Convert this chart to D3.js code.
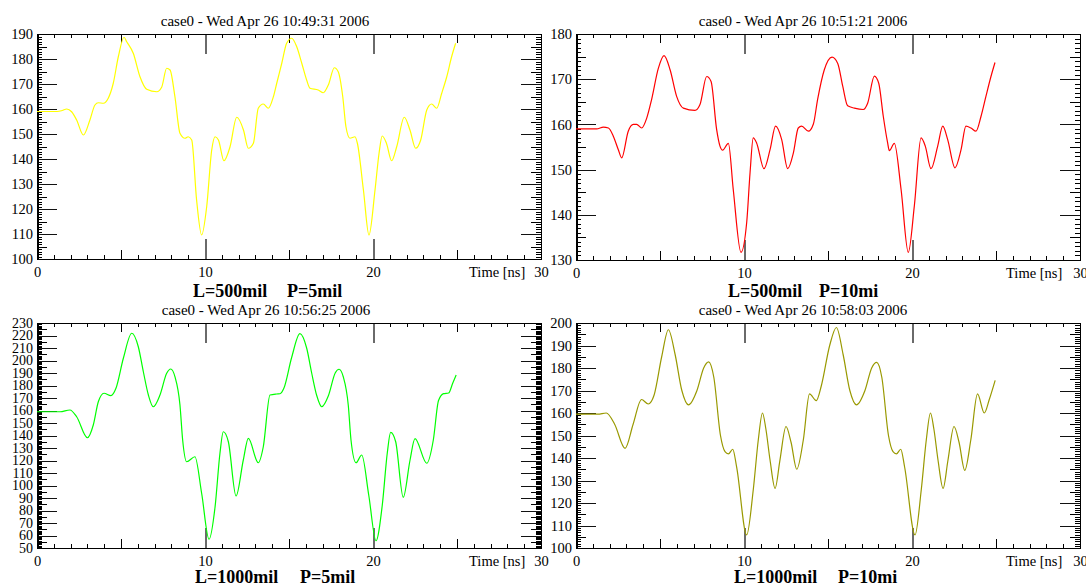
<!DOCTYPE html>
<html>
<head>
<meta charset="utf-8">
<script src="https://cdn.jsdelivr.net/npm/d3@7"></script>
<style>
  html, body { margin: 0; padding: 0; background: #fff; }
  svg { display: block; font-family: "Liberation Serif", "Times New Roman", serif; }
</style>
</head>
<body>
<svg id="chart" width="1086" height="585"></svg>
<script>
// ---- Waveform samples: [time (ns), voltage] ----
const seriesL500P5 = [
  [0,159],[1.2,159],[1.5,159.4],[1.77,160],[2.06,158.9],[2.36,155.6],[2.76,149.6],[3.15,155.6],[3.45,161.6],
  [3.65,162.5],[3.95,162.3],[4.24,164.3],[4.54,170.3],[4.84,180.9],[5.18,188.7],[5.34,186.9],[5.73,182.3],
  [6.13,172.9],[6.53,167.9],[7.13,166.9],[7.42,168.7],[7.72,176.3],[7.92,175.6],[8.21,164.9],[8.51,150.3],
  [8.81,148.3],[9.0,148.9],[9.21,147.6],[9.5,123.6],[9.8,109.6],[10.1,120.9],[10.4,143.6],[10.6,148.9],
  [10.8,147.6],[11.13,139.3],[11.49,144.9],[11.89,156.7],[12.29,151.6],[12.58,144.3],[12.88,146.3],
  [13.17,160.3],[13.47,162],[13.77,160.3],[14.07,164.9],[14.27,170.3],[14.57,178.3],[14.86,186.3],
  [15.16,188.3],[15.46,184.9],[15.76,178.3],[16.05,171.6],[16.25,168.3],[16.74,167.6],[17.04,166.5],
  [17.34,169.6],[17.7,176.5],[17.93,174.9],[18.2,164.9],[18.39,152.9],[18.63,148.3],[18.93,148.9],
  [19.07,146.3],[19.43,127.6],[19.76,109.6],[20.12,127.6],[20.36,142.3],[20.55,149.2],[20.8,146.3],
  [21.11,139.3],[21.41,144.9],[21.86,156.7],[22.2,151.6],[22.54,144.3],[22.84,147.6],[23.2,159.6],
  [23.49,162],[23.79,160.3],[24.09,166.3],[24.39,172.9],[24.68,180.9],[24.92,186.3]
];
const seriesL500P10 = [
  [0,159],[1.23,159],[1.63,159.4],[1.93,159.2],[2.22,157.4],[2.52,154.4],[2.72,152.6],[3.11,158.5],
  [3.41,160],[3.61,160],[3.91,159.2],[4.21,161.4],[4.5,165.5],[4.9,172.4],[5.24,175.2],[5.6,172.1],
  [5.99,166.2],[6.39,163.6],[7.08,163.1],[7.38,164.4],[7.78,170.6],[8.04,169.5],[8.37,158.9],[8.57,155.2],
  [8.73,154.3],[9.07,155.8],[9.36,145.6],[9.82,131.7],[10.16,138.3],[10.36,149.3],[10.55,157],[10.75,155.9],
  [11.19,150.2],[11.55,154.4],[11.88,159.6],[12.24,156.7],[12.6,150.2],[12.94,153.7],[13.23,159.2],
  [13.43,159.6],[13.83,158.5],[14.13,160.1],[14.38,165.5],[14.78,172.1],[15.24,174.9],[15.58,173.5],
  [15.88,168.4],[16.17,164.1],[16.57,163.6],[17.1,163.3],[17.36,164.7],[17.76,170.7],[18.02,169.1],
  [18.29,161.8],[18.55,155.9],[18.65,154.2],[18.95,155.8],[19.35,145.6],[19.78,131.7],[20.14,142],
  [20.54,157],[20.79,155.2],[21.13,150.2],[21.53,155.2],[21.83,159.6],[22.12,156.7],[22.56,150.4],
  [22.92,154.4],[23.21,159.6],[23.51,159.2],[23.81,158.5],[24.11,161.8],[24.4,166.2],[24.7,170.6],[24.94,173.7]
];
const seriesL1000P5 = [
  [0,159],[1.37,159],[1.96,160.4],[2.36,155],[3.0,138.2],[3.35,148.4],[3.65,167],[3.99,173.8],[4.4,171.9],
  [4.7,177.8],[5.14,201.8],[5.64,221.8],[6.03,211],[6.33,191],[6.63,172.4],[6.92,163],[7.32,172.4],
  [7.72,189.8],[7.96,193.2],[8.21,187.1],[8.51,164.4],[8.67,136.4],[8.91,119],[9.4,123],[9.8,93.8],
  [10.24,57],[10.6,83],[10.89,125.8],[11.09,143],[11.39,135],[11.85,91.6],[12.28,120.4],[12.58,137.7],
  [13.17,118.2],[13.47,131],[13.87,172.4],[14.27,173.2],[14.46,173.4],[14.7,178],[15.15,202],[15.65,221.5],
  [16.05,210],[16.35,190],[16.65,172],[16.95,163],[17.35,172],[17.75,190],[17.98,193],[18.23,187],
  [18.53,164],[18.69,136.4],[18.99,118.2],[19.33,124.4],[19.75,92],[20.18,55.8],[20.55,84],[20.85,126],
  [21.05,142.5],[21.35,135],[21.8,90.6],[22.2,120],[22.5,137.5],[23.2,117.8],[23.59,136.4],[23.9,168],
  [24.2,173.5],[24.5,174],[24.75,182],[24.95,188.4]
];
const seriesL1000P10 = [
  [0,159.5],[1.3,159.5],[1.8,160],[2.3,155],[2.92,144.3],[3.4,155],[3.9,166],[4.3,164],[4.65,168],
  [5.1,185],[5.5,197],[5.9,186],[6.3,170],[6.7,163.6],[7.2,170],[7.6,180],[7.9,182.7],[8.2,176],[8.6,150],
  [8.87,142.8],[9.07,141.8],[9.33,143.9],[9.56,136.1],[10.16,105.8],[10.55,125.8],[10.85,148],[11.1,160],
  [11.3,153],[11.55,139.1],[11.85,126.5],[12.14,139.1],[12.5,154],[12.8,147],[13.14,135],[13.53,148],
  [13.9,168.5],[14.3,165.5],[14.6,172],[15.1,190],[15.5,198],[15.9,186],[16.3,170],[16.7,163.6],[17.2,170],
  [17.6,180],[17.9,182.5],[18.2,176],[18.6,150],[18.87,142.8],[19.07,141.8],[19.33,143.9],[19.56,136],
  [20.18,105.8],[20.55,125.8],[20.85,148],[21.1,160],[21.3,153],[21.55,139],[21.85,126.5],[22.14,139],
  [22.5,154],[22.8,147],[23.14,134.5],[23.5,148],[23.9,168.5],[24.3,160],[24.6,166],[24.95,174.5]
];

// ---- Text and tick labels ----
const titles = [
  "case0 - Wed Apr 26 10:49:31 2006",
  "case0 - Wed Apr 26 10:51:21 2006",
  "case0 - Wed Apr 26 10:56:25 2006",
  "case0 - Wed Apr 26 10:58:03 2006"
];
const captionLength = ["L=500mil", "L=500mil", "L=1000mil", "L=1000mil"];
const captionPitch  = ["P=5mil", "P=10mi", "P=5mil", "P=10mi"];
const xAxisTitle = "Time [ns]";
const xTickLabels = [0, 10, 20, 30];
const yTickLabelsA = [100,110,120,130,140,150,160,170,180,190];
const yTickLabelsB = [130,140,150,160,170,180];
const yTickLabelsC = [50,60,70,80,90,100,110,120,130,140,150,160,170,180,190,200,210,220,230];
const yTickLabelsD = [100,110,120,130,140,150,160,170,180,190,200];

// ---- Panel layout ----
const panels = [
  { box: {left: 37,  right: 541,  top: 34,  bottom: 259}, yTicks: yTickLabelsA, data: seriesL500P5,  color: "#ffff00",
    labelSize: 14.5, titleX: 265, titleY: 26,  capLX: 193, capPX: 287, capY: 297, timeX: 469 },
  { box: {left: 576, right: 1080, top: 34,  bottom: 260}, yTicks: yTickLabelsB, data: seriesL500P10, color: "#ff0000",
    labelSize: 14.5, titleX: 803, titleY: 26,  capLX: 728, capPX: 819, capY: 297, timeX: 1006 },
  { box: {left: 37,  right: 541,  top: 323, bottom: 548}, yTicks: yTickLabelsC, data: seriesL1000P5, color: "#00ff00",
    labelSize: 14,   titleX: 266, titleY: 315, capLX: 195, capPX: 300, capY: 583, timeX: 469 },
  { box: {left: 576, right: 1080, top: 323, bottom: 548}, yTicks: yTickLabelsD, data: seriesL1000P10, color: "#999900",
    labelSize: 14.5, titleX: 803, titleY: 315, capLX: 734, capPX: 838, capY: 583, timeX: 1006 }
];

const svg = d3.select("#chart");
const FONT = '"Liberation Serif", "Times New Roman", serif';

function styleTicks(sel, color, width) {
  sel.select(".domain").remove();
  sel.selectAll(".tick line").attr("stroke", color).attr("stroke-width", width)
     .attr("shape-rendering", "crispEdges");
}

function drawPanel(p, i) {
  const b = p.box;
  const g = svg.append("g");
  const x = d3.scaleLinear().domain([0, 30]).range([b.left, b.right]);
  const yLo = p.yTicks[0], yHi = p.yTicks[p.yTicks.length - 1];
  const y = d3.scaleLinear().domain([yLo, yHi]).range([b.bottom, b.top]);

  // x ticks: every 1 ns (short), 5 ns (medium), 10 ns (long, grey)
  const xAll = d3.range(0, 31, 1);
  const xGroups = [
    { vals: xAll.filter(v => v % 5 !== 0), len: 4,  color: "#000", w: 1 },
    { vals: [5, 15, 25],                  len: 9,  color: "#000", w: 1 },
    { vals: [10, 20],                     len: 20, color: "#6a6a6a", w: 2 }
  ];
  xGroups.forEach(t => {
    g.append("g").attr("transform", `translate(0,${b.top})`)
      .call(d3.axisBottom(x).tickValues(t.vals).tickSize(t.len).tickFormat(""))
      .call(s => styleTicks(s, t.color, t.w));
    g.append("g").attr("transform", `translate(0,${b.bottom})`)
      .call(d3.axisTop(x).tickValues(t.vals).tickSize(t.len).tickFormat(""))
      .call(s => styleTicks(s, t.color, t.w));
  });

  // y ticks: every unit (short), every 5 (medium), every 10 (long)
  const yAll = d3.range(yLo, yHi + 0.5, 1);
  const yGroups = [
    { vals: yAll.filter(v => v % 5 !== 0),                 len: 5,  color: "#000" },
    { vals: yAll.filter(v => v % 5 === 0 && v % 10 !== 0), len: 10, color: "#000" },
    { vals: p.yTicks,                                      len: 20, color: "#111" }
  ];
  yGroups.forEach(t => {
    g.append("g").attr("transform", `translate(${b.left},0)`)
      .call(d3.axisRight(y).tickValues(t.vals).tickSize(t.len).tickFormat(""))
      .call(s => styleTicks(s, t.color, 1));
    g.append("g").attr("transform", `translate(${b.right},0)`)
      .call(d3.axisLeft(y).tickValues(t.vals).tickSize(t.len).tickFormat(""))
      .call(s => styleTicks(s, t.color, 1));
  });

  // frame
  g.append("rect")
    .attr("x", b.left + 0.5).attr("y", b.top + 0.5)
    .attr("width", b.right - b.left).attr("height", b.bottom - b.top)
    .attr("fill", "none").attr("stroke", "#000").attr("stroke-width", 1)
    .attr("shape-rendering", "crispEdges");
  g.append("line")
    .attr("x1", b.left + 1.5).attr("x2", b.left + 1.5).attr("y1", b.top).attr("y2", b.bottom)
    .attr("stroke", "#000").attr("stroke-width", 1).attr("shape-rendering", "crispEdges");

  // tick labels
  const xl = g.append("g").attr("transform", `translate(0,${b.bottom})`)
    .call(d3.axisBottom(x).tickValues(xTickLabels).tickSize(0).tickPadding(8))
    .attr("font-family", FONT).attr("font-size", 14.5);
  xl.select(".domain").remove();
  xl.selectAll("text").attr("fill", "#000");

  const yl = g.append("g").attr("transform", `translate(${b.left},0)`)
    .call(d3.axisLeft(y).tickValues(p.yTicks).tickSize(0).tickPadding(4))
    .attr("font-family", FONT).attr("font-size", p.labelSize);
  yl.select(".domain").remove();
  yl.selectAll("text").attr("fill", "#000");

  // axis title
  g.append("text").attr("x", p.timeX).attr("y", b.bottom + 18)
    .attr("font-size", 14.5).attr("fill", "#000").text(xAxisTitle);

  // panel title
  g.append("text").attr("x", p.titleX).attr("y", p.titleY)
    .attr("text-anchor", "middle").attr("font-size", 15).attr("fill", "#000").text(titles[i]);

  // caption
  g.append("text").attr("x", p.capLX).attr("y", p.capY)
    .attr("font-size", 18).attr("font-weight", "bold").attr("fill", "#000").text(captionLength[i]);
  g.append("text").attr("x", p.capPX).attr("y", p.capY)
    .attr("font-size", 18).attr("font-weight", "bold").attr("fill", "#000").text(captionPitch[i]);

  // waveform
  const line = d3.line().x(d => x(d[0])).y(d => y(d[1])).curve(d3.curveMonotoneX);
  g.append("path").datum(p.data)
    .attr("d", line).attr("fill", "none")
    .attr("stroke", p.color).attr("stroke-width", 1.2);
}

panels.forEach(drawPanel);
</script>
</body>
</html>
